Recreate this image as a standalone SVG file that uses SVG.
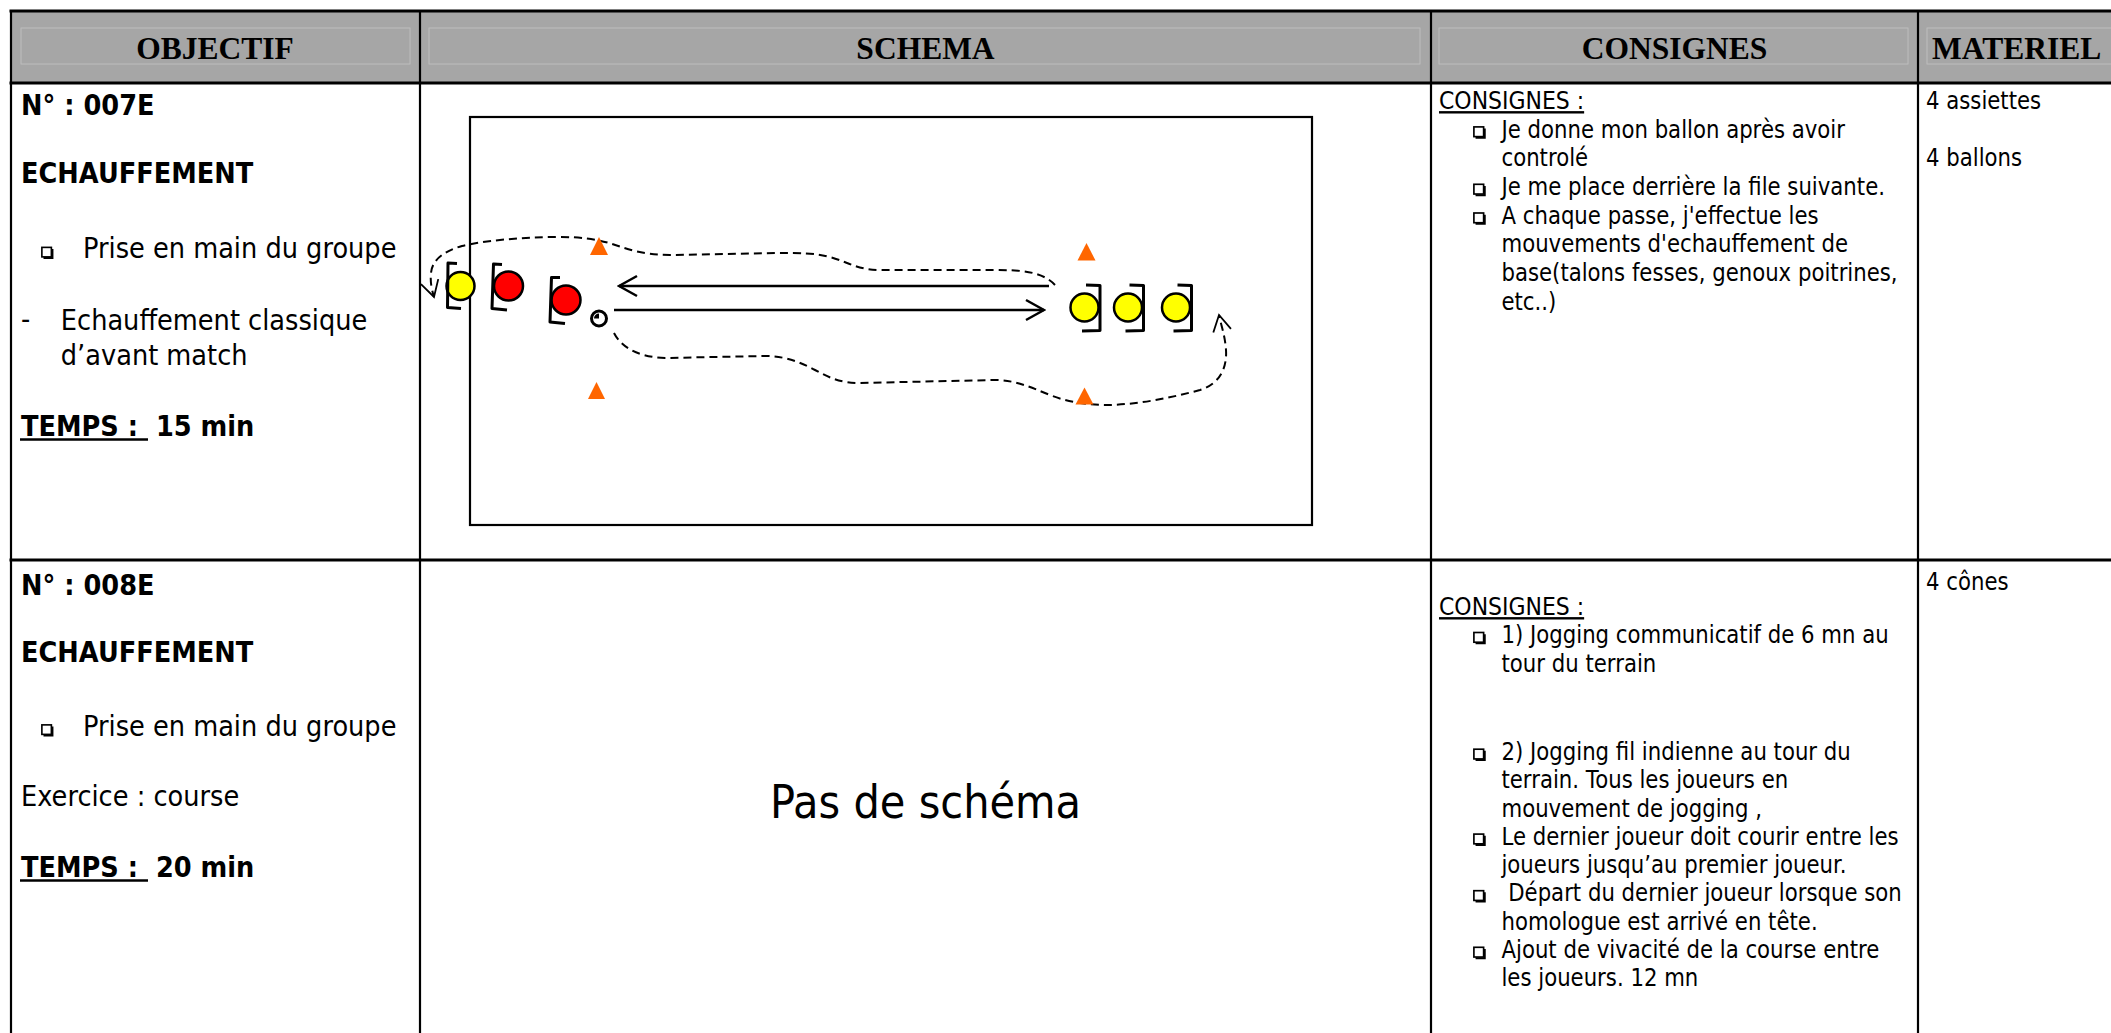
<svg xmlns="http://www.w3.org/2000/svg" width="2111" height="1033" viewBox="0 0 2111 1033">
<style>
.hd{font-family:"Liberation Serif","Times New Roman",serif;font-weight:bold;font-size:31.5px;fill:#000}
.t{font-family:"DejaVu Sans",Verdana,sans-serif;fill:#000}
.l{font-size:29px}
.s{font-size:24px}
.b{font-weight:bold}
.grid line{stroke:#000}
.h{stroke-width:3}
.v{stroke-width:2.2}
.inner{fill:none;stroke:#BDBDBD;stroke-width:1}
.cone{fill:#FF6600}
.pl{stroke:#000;stroke-width:2.5}
.br{fill:none;stroke:#000;stroke-width:3;stroke-linejoin:round}
.run{fill:none;stroke:#000;stroke-width:2;stroke-dasharray:8 5}
.pass{fill:none;stroke:#000;stroke-width:2.5}
.ul{stroke:#000;stroke-width:2.5}
</style>
<defs>
<marker id="ah" viewBox="-21 -12 23 24" markerWidth="23" markerHeight="24" refX="0" refY="0" orient="auto" markerUnits="userSpaceOnUse"><path d="M-18,-10 L0,0 L-18,10" fill="none" stroke="#000" stroke-width="2.5"/></marker>
<marker id="ahd" viewBox="-19 -11 21 22" markerWidth="21" markerHeight="22" refX="0" refY="0" orient="auto" markerUnits="userSpaceOnUse"><path d="M-16,-9 L0,0 L-16,9" fill="none" stroke="#000" stroke-width="1.8"/></marker>
<g id="bul"><rect x="0.7" y="0.7" width="7.6" height="7.6" fill="#fff" stroke="#000" stroke-width="1.3"/><path d="M2,9.2 H9.2 V2" fill="none" stroke="#000" stroke-width="1.5"/></g>
</defs>
<rect x="0" y="0" width="2111" height="1033" fill="#fff"/>

<g id="header">
<rect x="11" y="11" width="2100" height="72" fill="#A6A6A6"/>
<rect class="inner" x="21" y="28" width="389" height="36"/>
<rect class="inner" x="429" y="28" width="991" height="36"/>
<rect class="inner" x="1439" y="28" width="469" height="36"/>
<rect class="inner" x="1927" y="28" width="200" height="36"/>
<text class="hd" x="215" y="58.5" text-anchor="middle">OBJECTIF</text>
<text class="hd" x="925.5" y="58.5" text-anchor="middle">SCHEMA</text>
<text class="hd" x="1674.5" y="58.5" text-anchor="middle">CONSIGNES</text>
<text class="hd" x="1932" y="58.5">MATERIEL</text>
</g>

<g id="grid" class="grid">
<line class="h" x1="9.5" y1="11" x2="2111" y2="11"/>
<line class="h" x1="9.5" y1="83" x2="2111" y2="83"/>
<line class="h" x1="9.5" y1="560" x2="2111" y2="560"/>
<line class="v" x1="11" y1="10" x2="11" y2="1033"/>
<line class="v" x1="420" y1="10" x2="420" y2="1033"/>
<line class="v" x1="1431" y1="10" x2="1431" y2="1033"/>
<line class="v" x1="1918" y1="10" x2="1918" y2="1033"/>
</g>

<g id="objectif-007E">
<g class="t l" transform="matrix(0.885 0 0 1 21 0)">
<text class="b" x="0" y="115">N° : 007E</text>
<text class="b" x="0" y="183.5">ECHAUFFEMENT</text>
<text x="70" y="258.5">Prise en main du groupe</text>
<text x="0" y="329.5">-</text>
<text x="45" y="330">Echauffement classique</text>
<text x="45" y="365">d’avant match</text>
<text class="b" x="0" y="436" xml:space="preserve">TEMPS :  15 min</text>
</g>
<use href="#bul" transform="translate(41,246.5) scale(1.25)"/>
<line class="ul" x1="20" y1="439.5" x2="148" y2="439.5"/>
</g>

<g id="objectif-008E">
<g class="t l" transform="matrix(0.885 0 0 1 21 0)">
<text class="b" x="0" y="595">N° : 008E</text>
<text class="b" x="0" y="662.5">ECHAUFFEMENT</text>
<text x="70" y="736">Prise en main du groupe</text>
<text x="0" y="806.5">Exercice : course</text>
<text class="b" x="0" y="877" xml:space="preserve">TEMPS :  20 min</text>
</g>
<use href="#bul" transform="translate(41,724) scale(1.25)"/>
<line class="ul" x1="20" y1="880.5" x2="148" y2="880.5"/>
</g>

<g id="schema-007E">
<rect x="470" y="117" width="842" height="408" fill="none" stroke="#000" stroke-width="2.2"/>
<g id="connectors">
<path class="run" d="M1055,285 C1042,271 1020,270 995,270 L880,270 C858,270 848,262 830,257 C815,253 800,253 776,253 L670,255 C640,255 625,248 609,243 C595,239 580,237 560,237 C520,237 482,241 462,246 C444,251 432,260 431,273 C430,283 432,290 434,297" marker-end="url(#ahd)"/>
<path class="run" d="M614,333 C620,345 635,357 665,358 L765,356 C785,356 800,362 815,370 C830,378 840,383 860,383 L995,380 C1015,380 1030,387 1050,395 C1070,403 1090,405 1110,405 C1140,404 1170,398 1200,390 C1222,383 1227,365 1226,350 C1225,335 1221,325 1219,315" marker-end="url(#ahd)"/>
<path class="pass" d="M1049,286 L619,286" marker-end="url(#ah)"/>
<path class="pass" d="M614,310 L1044,310" marker-end="url(#ah)"/>
</g>
<polygon class="cone" points="599,237 608,255 590,255"/>
<polygon class="cone" points="596.5,382 605,399 588,399"/>
<polygon class="cone" points="1086.5,243 1095.5,260.5 1077.5,260.5"/>
<polygon class="cone" points="1084.5,387.5 1093.5,404.5 1075.5,404.5"/>
<g id="player-y1"><circle class="pl" cx="460.5" cy="286" r="14" fill="#FFFF00"/><path class="br" d="M457,263.5 L448,263 L447.5,307.5 L461,308.5"/></g>
<g id="player-r1"><circle class="pl" cx="508.5" cy="286" r="14.5" fill="#FF0000"/><path class="br" d="M502,264.5 L493.5,264 L492,308.5 L507,310"/></g>
<g id="player-r2"><circle class="pl" cx="566" cy="300" r="14.5" fill="#FF0000"/><path class="br" d="M560,277.5 L551.5,277.5 L550,322 L565,323.5"/></g>
<g id="ball"><circle cx="599" cy="318.5" r="7.5" fill="#fff" stroke="#000" stroke-width="3"/><path d="M599,318.5 L599,313.5 A5,5 0 0 0 594,318.5 Z" fill="#000"/></g>
<g id="player-y2"><circle class="pl" cx="1084.5" cy="307.5" r="14" fill="#FFFF00"/><path class="br" d="M1086,285 L1100,285.5 L1100,330.5 L1082,331"/></g>
<g id="player-y3"><circle class="pl" cx="1128" cy="307.5" r="14" fill="#FFFF00"/><path class="br" d="M1129.5,285 L1143.5,285.5 L1143.5,330.5 L1125.5,331"/></g>
<g id="player-y4"><circle class="pl" cx="1176" cy="307.5" r="14" fill="#FFFF00"/><path class="br" d="M1177.5,285 L1191.5,285.5 L1191.5,330.5 L1173.5,331"/></g>
</g>

<g id="schema-008E">
<g class="t" transform="matrix(0.885 0 0 1 925.5 0)"><text x="0" y="818" text-anchor="middle" font-size="47">Pas de schéma</text></g>
</g>

<g id="consignes-007E">
<g class="t s" transform="matrix(0.885 0 0 1 1439 0)">
<text x="0" y="109" text-decoration="underline" textLength="164" lengthAdjust="spacingAndGlyphs">CONSIGNES :</text>
<text x="70.6" y="137.7">Je donne mon ballon après avoir</text>
<text x="70.6" y="166.4">controlé</text>
<text x="70.6" y="195.1">Je me place derrière la file suivante.</text>
<text x="70.6" y="223.8">A chaque passe, j'effectue les</text>
<text x="70.6" y="252.5">mouvements d'echauffement de</text>
<text x="70.6" y="281.2">base(talons fesses, genoux poitrines,</text>
<text x="70.6" y="309.9">etc..)</text>
</g>
<use href="#bul" transform="translate(1473,126) scale(1.28)"/>
<use href="#bul" transform="translate(1473,183.4) scale(1.28)"/>
<use href="#bul" transform="translate(1473,212.1) scale(1.28)"/>
</g>

<g id="consignes-008E">
<g class="t s" transform="matrix(0.885 0 0 1 1439 0)">
<text x="0" y="615" text-decoration="underline" textLength="164" lengthAdjust="spacingAndGlyphs">CONSIGNES :</text>
<text x="70.6" y="643.3">1) Jogging communicatif de 6 mn au</text>
<text x="70.6" y="671.6">tour du terrain</text>
<text x="70.6" y="760">2) Jogging fil indienne au tour du</text>
<text x="70.6" y="788.3">terrain. Tous les joueurs en</text>
<text x="70.6" y="816.6">mouvement de jogging ,</text>
<text x="70.6" y="844.9">Le dernier joueur doit courir entre les</text>
<text x="70.6" y="873.2">joueurs jusqu’au premier joueur.</text>
<text x="70.6" y="901.5" xml:space="preserve"> Départ du dernier joueur lorsque son</text>
<text x="70.6" y="929.8">homologue est arrivé en tête.</text>
<text x="70.6" y="958.1">Ajout de vivacité de la course entre</text>
<text x="70.6" y="986.4">les joueurs. 12 mn</text>
</g>
<use href="#bul" transform="translate(1473,631.6) scale(1.28)"/>
<use href="#bul" transform="translate(1473,748.3) scale(1.28)"/>
<use href="#bul" transform="translate(1473,833.2) scale(1.28)"/>
<use href="#bul" transform="translate(1473,889.8) scale(1.28)"/>
<use href="#bul" transform="translate(1473,946.4) scale(1.28)"/>
</g>

<g id="materiel-007E" class="t s" transform="matrix(0.885 0 0 1 1926 0)">
<text x="0" y="109">4 assiettes</text>
<text x="0" y="166.4">4 ballons</text>
</g>
<g id="materiel-008E" class="t s" transform="matrix(0.885 0 0 1 1926 0)">
<text x="0" y="590">4 cônes</text>
</g>
</svg>
